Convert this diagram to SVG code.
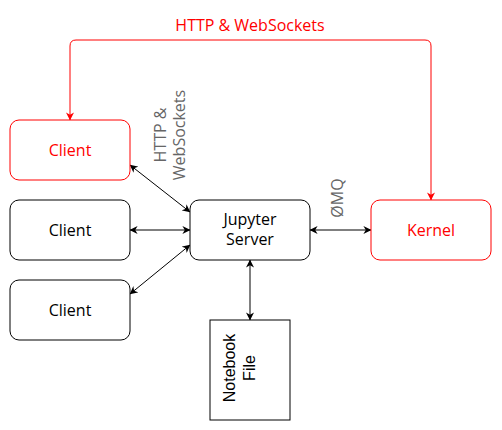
<svg xmlns="http://www.w3.org/2000/svg" width="502" height="430" viewBox="0 0 502 430">
  <defs>
    <marker id="ab" viewBox="0 0 10 10" refX="9.5" refY="5" markerWidth="8" markerHeight="8" markerUnits="userSpaceOnUse" orient="auto-start-reverse">
      <path d="M0,0 L10,5 L0,10 L3,5 Z" fill="#000"/>
    </marker>
    <marker id="ar" viewBox="0 0 10 10" refX="9.5" refY="5" markerWidth="8" markerHeight="8" markerUnits="userSpaceOnUse" orient="auto-start-reverse">
      <path d="M0,0 L10,5 L0,10 L3,5 Z" fill="#ff0000"/>
    </marker>
  </defs>
  <style>
    .box { fill: #ffffff; stroke: #000000; stroke-width: 1; }
    .red { stroke: #ff0000; }
    .t { font-family: "Open Sans", "Liberation Sans", sans-serif; font-size: 16px; text-anchor: middle; fill: #000000; }
    .tr { fill: #ff0000; }
    .tg { fill: #666666; }
    .ta { font-family: "Liberation Sans", Arial, sans-serif; font-size: 16px; text-anchor: middle; fill: #000000; }
    .c { fill: none; stroke: #000000; stroke-width: 1; marker-start: url(#ab); marker-end: url(#ab); }
    .cr { fill: none; stroke: #ff0000; stroke-width: 1; marker-start: url(#ar); marker-end: url(#ar); }
  </style>
  <rect width="502" height="430" fill="#ffffff"/>

  <g id="connectors">
    <path class="cr" d="M70,120 V46 Q70,40 76,40 H425 Q431,40 431,46 V200"/>
    <path class="c" d="M130,165 L190,212"/>
    <path class="c" d="M130,230 L190,230"/>
    <path class="c" d="M130,294 L190,245"/>
    <path class="c" d="M310,230 L371,230"/>
    <path class="c" d="M250,260 L250,320"/>
  </g>

  <g id="labels">
    <text class="t tr" x="250" y="31">HTTP &amp; WebSockets</text>
    <text class="t tg" transform="translate(170,135) rotate(-90)"><tspan x="0" y="-4">HTTP &amp;</tspan><tspan x="0" y="15">WebSockets</tspan></text>
    <text class="t tg" transform="translate(338,198) rotate(-90)" x="0" y="5">ØMQ</text>
  </g>

  <g id="client1">
    <rect class="box red" x="10" y="120" width="120" height="60" rx="9"/>
    <text class="t tr" x="70" y="156">Client</text>
  </g>
  <g id="client2">
    <rect class="box" x="10" y="200" width="120" height="60" rx="9"/>
    <text class="t" x="70" y="236">Client</text>
  </g>
  <g id="client3">
    <rect class="box" x="10" y="280" width="120" height="60" rx="9"/>
    <text class="t" x="70" y="316">Client</text>
  </g>
  <g id="server">
    <rect class="box" x="190" y="200" width="120" height="60" rx="9"/>
    <text class="t"><tspan x="250" y="225">Jupyter</tspan><tspan x="250" y="245">Server</tspan></text>
  </g>
  <g id="kernel">
    <rect class="box red" x="371" y="200" width="120" height="60" rx="9"/>
    <text class="t tr" x="431" y="236">Kernel</text>
  </g>
  <g id="notebook">
    <rect class="box" x="210" y="320" width="80" height="100"/>
    <text class="ta" transform="translate(240,368) rotate(-90)"><tspan x="0" y="-5">Notebook</tspan><tspan x="0" y="15">File</tspan></text>
  </g>
</svg>
